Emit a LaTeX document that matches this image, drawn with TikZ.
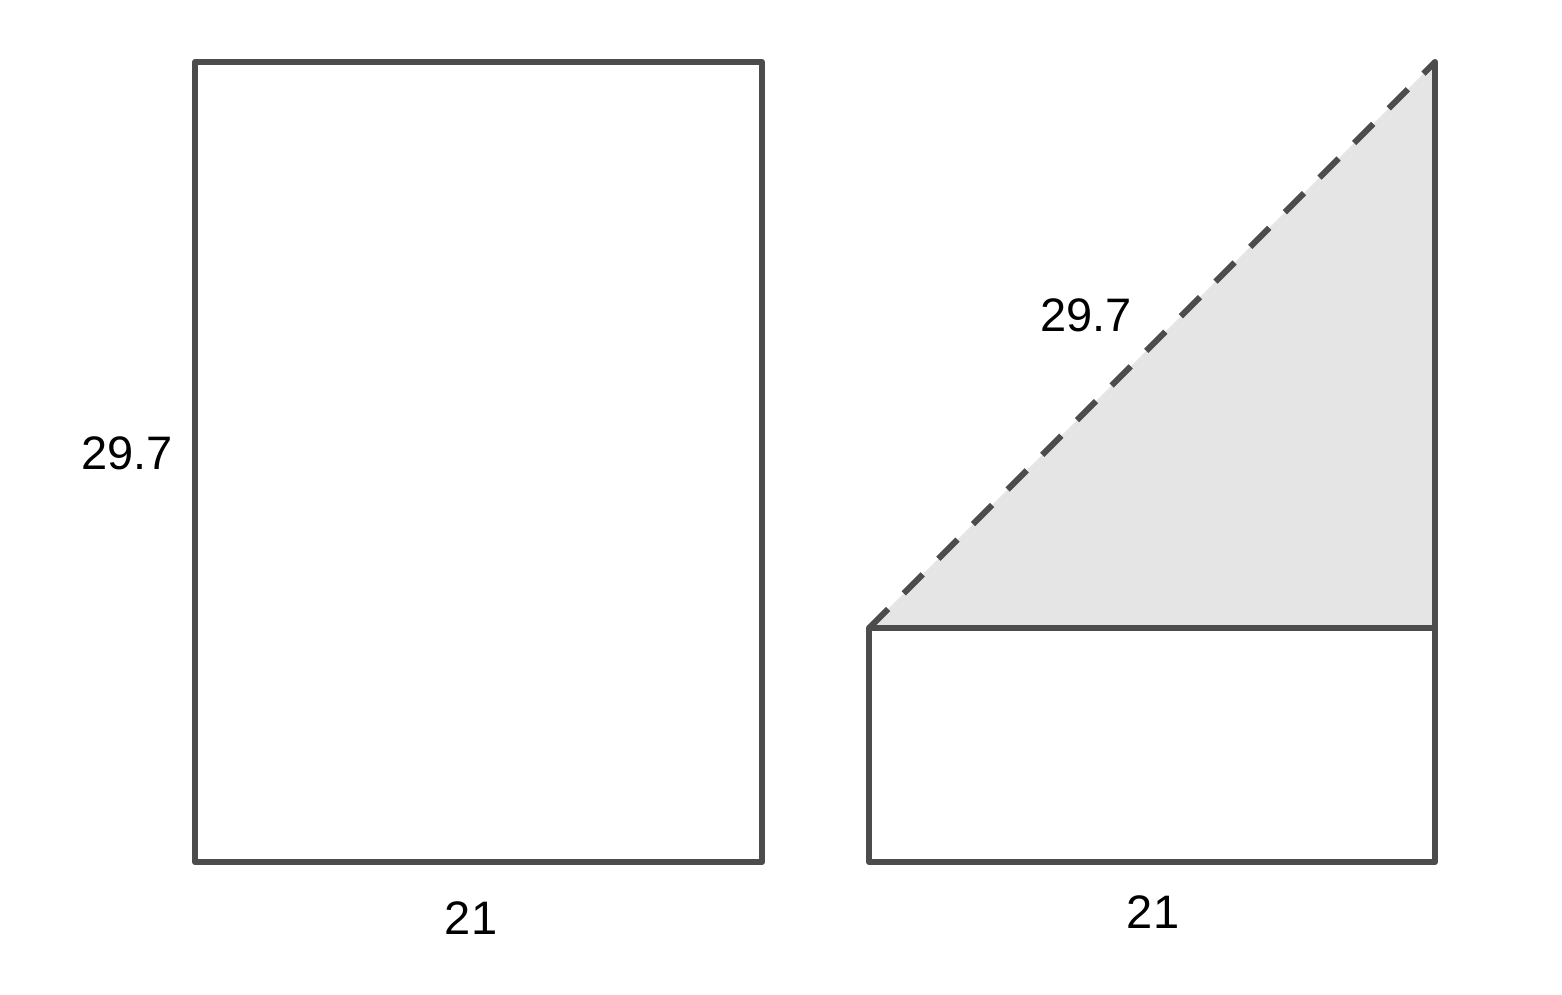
\documentclass[tikz,border=0pt]{standalone}
\usepackage{fontspec}
\setmainfont{Liberation Sans}
\begin{document}
\begin{tikzpicture}[x=1pt,y=-1pt,
  edge/.style={draw=black!70,line width=6pt,line cap=round,line join=round},
  dashedge/.style={draw=black!70,line width=6pt,dash pattern=on 27pt off 22pt},
  lbl/.style={inner sep=0pt,font=\fontsize{47}{50}\selectfont}]
\useasboundingbox (0,0) rectangle (1562,994);
% left rectangle
\coordinate (A1) at (195,862);
\coordinate (A2) at (762,862);
\coordinate (A3) at (762,62);
\coordinate (A4) at (195,62);
% right figure
\coordinate (B1) at (869,862);
\coordinate (B2) at (1435,862);
\coordinate (B3) at (1435,628);
\coordinate (B4) at (869,628);
\coordinate (T) at (1435,62);
\fill[black!10] (B4) -- (B3) -- (T) -- cycle;
\draw[dashedge] (B4) -- (T);
\draw[edge] (A1) -- (A2) -- (A3) -- (A4) -- cycle;
\draw[edge] (B1) -- (B2) -- (B3) -- (B4) -- cycle;
\draw[edge] (B3) -- (T);
\node[lbl] (h1) at (127,453) {29.7};
\node[lbl] (w1) at (471,918) {21};
\node[lbl] (h2) at (1086,315) {29.7};
\node[lbl] (w2) at (1153,912) {21};
\end{tikzpicture}
\end{document}
